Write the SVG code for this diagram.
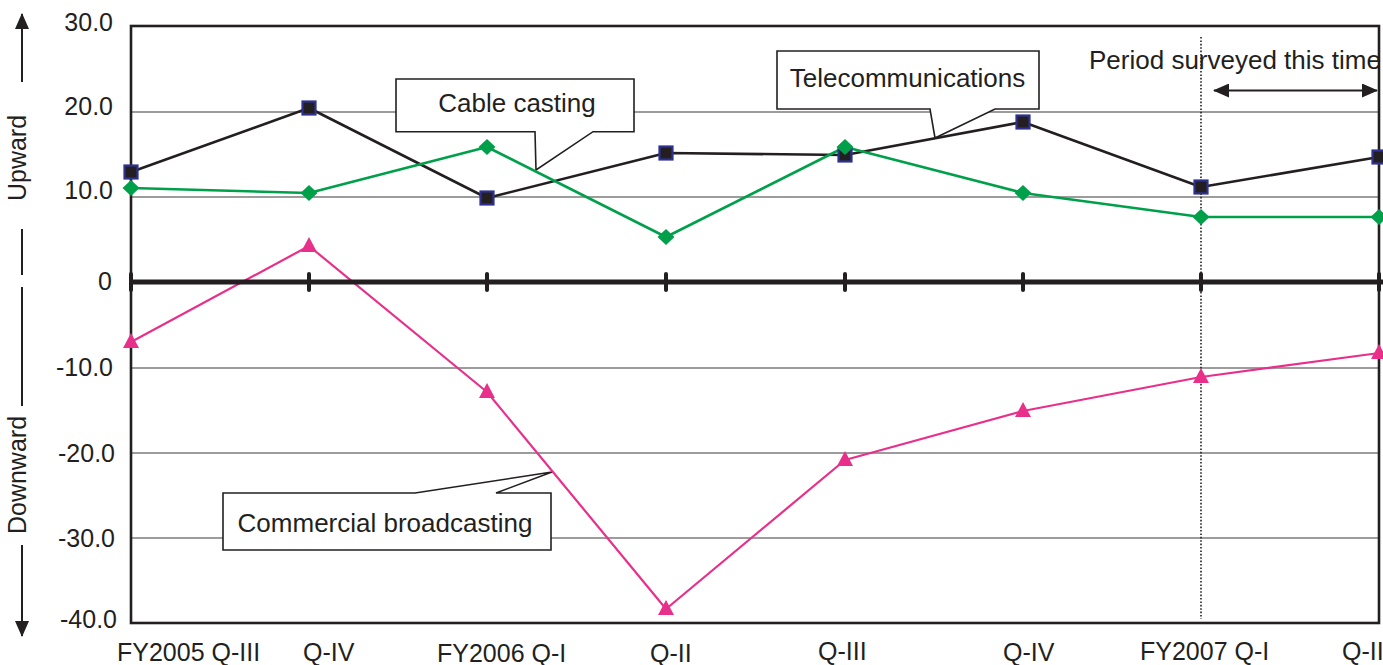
<svg xmlns="http://www.w3.org/2000/svg" width="1383" height="665" viewBox="0 0 1383 665">
<style>
text{font-family:"Liberation Sans",Arial,sans-serif;fill:#231f20}
.ax{font-size:25px}
.yl{font-size:25px;text-anchor:end}
.co{font-size:26px}
.grid{stroke:#3a3a3a;stroke-width:1.2;fill:none}
.frame{stroke:#231f20;stroke-width:2.6;fill:none}
.tick{stroke:#231f20;stroke-width:4;stroke-linecap:round}
.callout{fill:#fff;stroke:#231f20;stroke-width:1.6;stroke-linejoin:miter}
.tel{fill:none;stroke:#231f20;stroke-width:2.6;stroke-linejoin:round}
.cab{fill:none;stroke:#00a04b;stroke-width:2.6;stroke-linejoin:round}
.com{fill:none;stroke:#e8308a;stroke-width:2.2;stroke-linejoin:round}
.sq{fill:#231f20;stroke:#2e3192;stroke-width:2.2}
.dm{fill:#00a04b}
.tr{fill:#e8308a}
.ar{stroke:#231f20;stroke-width:2;fill:none}
</style>
<defs>
<marker id="ah" viewBox="0 0 16 14" refX="15" refY="7" markerWidth="16" markerHeight="14" markerUnits="userSpaceOnUse" orient="auto-start-reverse">
<path d="M0,0 L16,7 L0,14 Z" fill="#231f20"/>
</marker>
<rect id="sqm" x="-6.5" y="-6.5" width="13" height="13" class="sq"/>
<path id="dmm" d="M0,-8 L8.5,0 L0,8 L-8.5,0 Z" class="dm"/>
<path id="trm" d="M0,-9 L8,6 L-8,6 Z" class="tr"/>
</defs>

<g id="gridlines">
<line class="grid" x1="131" y1="112" x2="1379" y2="112"/>
<line class="grid" x1="131" y1="197" x2="1379" y2="197"/>
<line class="grid" x1="131" y1="368" x2="1379" y2="368"/>
<line class="grid" x1="131" y1="453" x2="1379" y2="453"/>
<line class="grid" x1="131" y1="538" x2="1379" y2="538"/>
</g>

<g id="plot-frame">
<rect class="frame" x="131" y="26" width="1248" height="597"/>
<line x1="1201" y1="37" x2="1201" y2="619" stroke="#231f20" stroke-width="1.6" stroke-dasharray="1.6 1.8"/>
</g>

<g id="y-axis-labels">
<text class="yl" x="113" y="31">30.0</text>
<text class="yl" x="113" y="115">20.0</text>
<text class="yl" x="113" y="199">10.0</text>
<text class="yl" x="112" y="290">0</text>
<text class="yl" x="113" y="376">-10.0</text>
<text class="yl" x="115" y="462">-20.0</text>
<text class="yl" x="115" y="547">-30.0</text>
<text class="yl" x="117" y="628">-40.0</text>
</g>

<g id="direction-arrows">
<line class="ar" x1="22" y1="82" x2="22" y2="14" marker-end="url(#ah)"/>
<line class="ar" x1="22" y1="229" x2="22" y2="275"/>
<line class="ar" x1="22" y1="287" x2="22" y2="406"/>
<line class="ar" x1="22" y1="545" x2="22" y2="636" marker-end="url(#ah)"/>
<text class="ax" transform="translate(26,158) rotate(-90)" text-anchor="middle">Upward</text>
<text class="ax" transform="translate(26,475) rotate(-90)" text-anchor="middle">Downward</text>
</g>

<g id="x-axis-labels">
<text class="ax" x="117" y="661">FY2005 Q-III</text>
<text class="ax" x="303" y="661">Q-IV</text>
<text class="ax" x="437" y="662">FY2006 Q-I</text>
<text class="ax" x="650" y="662">Q-II</text>
<text class="ax" x="818" y="660">Q-III</text>
<text class="ax" x="1003" y="661">Q-IV</text>
<text class="ax" x="1140" y="660">FY2007 Q-I</text>
<text class="ax" x="1342" y="660">Q-II</text>
</g>

<g id="period-note">
<text class="co" x="1089" y="69">Period surveyed this time</text>
<line class="ar" x1="1214" y1="90.5" x2="1377" y2="90.5" marker-start="url(#ah)" marker-end="url(#ah)"/>
</g>

<g id="callout-cable">
<path class="callout" d="M396,79 H634 V131.7 H593 L536,170 L535,131.7 H396 Z"/>
<text class="co" x="517" y="112" text-anchor="middle">Cable casting</text>
</g>
<g id="callout-telecom">
<path class="callout" d="M777,51 H1039 V109 H995 L935,138 L930,109 H777 Z"/>
<text class="co" x="907.5" y="87" text-anchor="middle">Telecommunications</text>
</g>
<g id="callout-commercial">
<path class="callout" d="M223,493 H415 L552,472 L496,493 H551 V550 H223 Z"/>
<text class="co" x="385" y="532" text-anchor="middle">Commercial broadcasting</text>
</g>

<g id="connectors">
<polyline class="tel" points="131,172 309,108 487,198 666,153 845,155 1023,122 1201,187 1379,157"/>
<polyline class="cab" points="131,188 309,193 487,147 666,237 845,147 1023,193 1201,217 1383,217"/>
<polyline class="com" points="131,342 309,246 487,392 666,609 845,460 1023,411 1201,377 1383,352.5"/>
</g>

<g id="series-telecommunications">
<use href="#sqm" x="131" y="172"/>
<use href="#sqm" x="309" y="108"/>
<use href="#sqm" x="487" y="198"/>
<use href="#sqm" x="666" y="153"/>
<use href="#sqm" x="845" y="155"/>
<use href="#sqm" x="1023" y="122"/>
<use href="#sqm" x="1201" y="187"/>
<use href="#sqm" x="1379" y="157"/>
</g>
<g id="series-cable">
<use href="#dmm" x="131" y="188"/>
<use href="#dmm" x="309" y="193"/>
<use href="#dmm" x="487" y="147"/>
<use href="#dmm" x="666" y="237"/>
<use href="#dmm" x="845" y="147"/>
<use href="#dmm" x="1023" y="193"/>
<use href="#dmm" x="1201" y="217"/>
<use href="#dmm" x="1379" y="217"/>
</g>
<g id="series-commercial">
<use href="#trm" x="131" y="342"/>
<use href="#trm" x="309" y="246"/>
<use href="#trm" x="487" y="392"/>
<use href="#trm" x="666" y="609"/>
<use href="#trm" x="845" y="460"/>
<use href="#trm" x="1023" y="411"/>
<use href="#trm" x="1201" y="377"/>
<use href="#trm" x="1379" y="353"/>
</g>

<g id="zero-line">
<line x1="131" y1="282" x2="1383" y2="282" stroke="#231f20" stroke-width="5"/>
<line class="tick" x1="131" y1="274" x2="131" y2="290"/>
<line class="tick" x1="309" y1="274" x2="309" y2="290"/>
<line class="tick" x1="487" y1="274" x2="487" y2="290"/>
<line class="tick" x1="666" y1="274" x2="666" y2="290"/>
<line class="tick" x1="845" y1="274" x2="845" y2="290"/>
<line class="tick" x1="1023" y1="274" x2="1023" y2="290"/>
<line class="tick" x1="1201" y1="274" x2="1201" y2="290"/>
<line class="tick" x1="1379" y1="274" x2="1379" y2="290"/>
</g>
</svg>
